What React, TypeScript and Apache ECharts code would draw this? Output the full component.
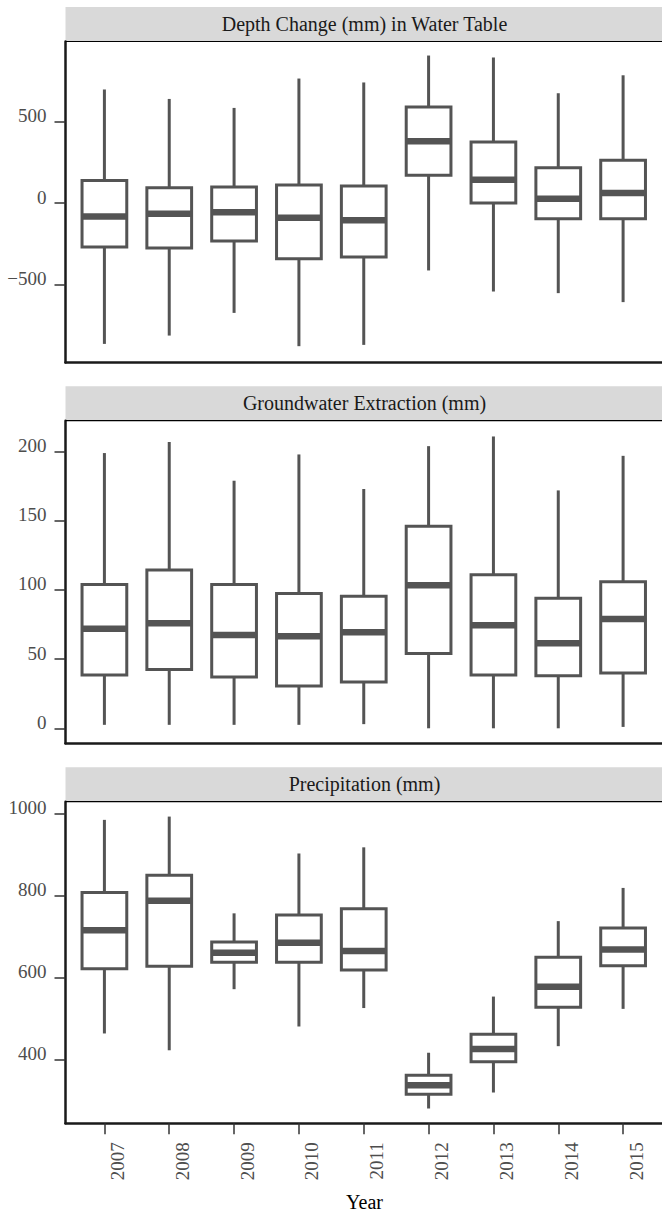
import React, { useEffect, useRef } from "react";
import * as echarts from "echarts";

const years = ["2007", "2008", "2009", "2010", "2011", "2012", "2013", "2014", "2015"];

// Depth Change (mm) in Water Table
const depthMin = [-863, -812, -673, -877, -869, -413, -542, -552, -607];
const depthQ1 = [-270, -276, -233, -341, -331, 170, 0, -96, -96];
const depthMed = [-82, -65, -57, -90, -106, 379, 143, 27, 61];
const depthQ3 = [139, 94, 98, 110, 104, 589, 374, 217, 262];
const depthMax = [696, 638, 583, 763, 739, 904, 892, 673, 783];

// Groundwater Extraction (mm)
const extrMin = [2.5, 2.5, 2.5, 2.5, 3, 0, 0, 0, 1];
const extrQ1 = [38.5, 42.5, 37, 30.5, 33.5, 54, 38.5, 38, 40];
const extrMed = [72, 76, 67.5, 66.5, 69.5, 103.5, 74.5, 61.5, 79];
const extrQ3 = [104, 114.5, 104, 97.5, 95.5, 146, 111, 94, 106];
const extrMax = [199, 207, 179, 198, 173, 204, 211, 172, 197];

// Precipitation (mm)
const precMin = [463, 422, 571, 480, 525, 280, 319, 432, 523];
const precQ1 = [621, 627, 637, 637, 618, 315, 394, 527, 628];
const precMed = [715, 787, 660, 684, 664, 337, 425, 577, 668];
const precQ3 = [807, 849, 686, 752, 767, 361, 461, 649, 720];
const precMax = [984, 992, 756, 902, 917, 416, 553, 737, 818];

const panelTitles = ["Depth Change (mm) in Water Table", "Groundwater Extraction (mm)", "Precipitation (mm)"];
const yTicks = [
  [-500, 0, 500],
  [0, 50, 100, 150, 200],
  [400, 600, 800, 1000],
];
const yRanges = [
  [-977, 990],
  [-10.85, 222.4],
  [243.9, 1028.3],
];
const xTicks = [1, 2, 3, 4, 5, 6, 7, 8, 9];

const FONT = "Liberation Serif";
const BOX_COLOR = "#545454";
const TEXT_GREY = "#4d4d4d";
const AXIS_COLOR = "#1a1a1a";

const GRID_LEFT = 65.5;
const GRID_WIDTH = 598;
const grids = [
  { top: 41.5, height: 321 },
  { top: 420.7, height: 322.6 },
  { top: 801.7, height: 321.6 },
];
const STRIP_H = 34.5;

function buildData(mins: number[], q1: number[], med: number[], q3: number[], maxs: number[]) {
  return years.map((_, k) => [k + 1, mins[k], q1[k], med[k], q3[k], maxs[k]]);
}

const panelData = [
  buildData(depthMin, depthQ1, depthMed, depthQ3, depthMax),
  buildData(extrMin, extrQ1, extrMed, extrQ3, extrMax),
  buildData(precMin, precQ1, precMed, precQ3, precMax),
];

function renderBox(params: any, api: any) {
  const x = api.value(0);
  const pMin = api.coord([x, api.value(1)]);
  const pQ1 = api.coord([x, api.value(2)]);
  const pMed = api.coord([x, api.value(3)]);
  const pQ3 = api.coord([x, api.value(4)]);
  const pMax = api.coord([x, api.value(5)]);
  const hw = api.size([0.69, 0])[0] / 2;
  const cx = pMed[0];
  const lineStyle = { stroke: BOX_COLOR, lineWidth: 3, fill: null };
  return {
    type: "group",
    children: [
      { type: "line", shape: { x1: cx, y1: pMax[1], x2: cx, y2: pQ3[1] }, style: lineStyle },
      { type: "line", shape: { x1: cx, y1: pQ1[1], x2: cx, y2: pMin[1] }, style: lineStyle },
      {
        type: "rect",
        shape: { x: cx - hw, y: pQ3[1], width: 2 * hw, height: pQ1[1] - pQ3[1] },
        style: { stroke: BOX_COLOR, lineWidth: 3, fill: "#ffffff" },
      },
      {
        type: "line",
        shape: { x1: cx - hw, y1: pMed[1], x2: cx + hw, y2: pMed[1] },
        style: { stroke: BOX_COLOR, lineWidth: 6.5 },
      },
    ],
  };
}

export default function App() {
  const ref = useRef<HTMLDivElement>(null);
  useEffect(() => {
    if (!ref.current) return;
    const chart = echarts.init(ref.current, null, { renderer: "svg" });

    const graphic: any[] = [];
    grids.forEach((g, i) => {
      graphic.push({
        type: "rect",
        shape: { x: GRID_LEFT, y: g.top - STRIP_H, width: 662 - GRID_LEFT, height: STRIP_H },
        style: { fill: "#d9d9d9" },
        z: 0,
      });
      graphic.push({
        type: "text",
        x: GRID_LEFT + GRID_WIDTH / 2,
        y: g.top - STRIP_H / 2,
        style: {
          text: panelTitles[i],
          fontFamily: FONT,
          fontSize: 20,
          fill: "#1a1a1a",
          align: "center",
          verticalAlign: "middle",
        },
        z: 1,
      });
      graphic.push({
        type: "line",
        shape: { x1: GRID_LEFT, y1: g.top, x2: 662, y2: g.top },
        style: { stroke: "#000000", lineWidth: 1.2 },
        z: 5,
      });
    });
    graphic.push({
      type: "text",
      x: GRID_LEFT + GRID_WIDTH / 2,
      y: 1201.5,
      style: {
        text: "Year",
        fontFamily: FONT,
        fontSize: 20,
        lineHeight: 20,
        fill: "#000000",
        align: "center",
        verticalAlign: "middle",
      },
    });

    const option: any = {
      animation: false,
      backgroundColor: "#ffffff",
      textStyle: { fontFamily: FONT },
      grid: grids.map((g) => ({ left: GRID_LEFT, top: g.top, width: GRID_WIDTH, height: g.height, containLabel: false })),
      xAxis: grids.map((_, i) => ({
        type: "value",
        gridIndex: i,
        min: 0.4,
        max: 9.6,
        axisLine: { show: true, onZero: false, lineStyle: { color: AXIS_COLOR, width: 2.5 } },
        splitLine: { show: false },
        axisTick: {
          show: i === 2,
          customValues: xTicks,
          length: 11,
          lineStyle: { color: "#333333", width: 1.5 },
        },
        axisLabel: {
          show: i === 2,
          customValues: xTicks,
          rotate: 90,
          margin: 19,
          verticalAlign: "top",
          lineHeight: 26,
          fontFamily: FONT,
          fontSize: 19,
          color: TEXT_GREY,
          formatter: (v: number) => years[Math.round(v) - 1] ?? "",
        },
      })),
      yAxis: grids.map((_, i) => ({
        type: "value",
        gridIndex: i,
        min: yRanges[i][0],
        max: yRanges[i][1],
        axisLine: { show: true, onZero: false, lineStyle: { color: AXIS_COLOR, width: 2.5 } },
        splitLine: { show: false },
        axisTick: {
          show: true,
          customValues: yTicks[i],
          length: 11,
          lineStyle: { color: "#333333", width: 1.5 },
        },
        axisLabel: {
          show: true,
          customValues: yTicks[i],
          margin: 19,
          verticalAlign: "bottom",
          lineHeight: 12,
          fontFamily: FONT,
          fontSize: 19,
          color: TEXT_GREY,
          formatter: (v: number) => String(v).replace("-", "\u2212"),
        },
      })),
      series: panelData.map((d, i) => ({
        type: "custom",
        xAxisIndex: i,
        yAxisIndex: i,
        data: d,
        encode: { x: 0, y: [1, 2, 3, 4, 5] },
        renderItem: renderBox,
        clip: false,
      })),
      graphic,
    };
    chart.setOption(option);
    return () => chart.dispose();
  }, []);
  return (
    <div
      ref={ref}
      style={{ position: "fixed", left: 0, top: 0, width: 662, height: 1212, background: "#fff" }}
    />
  );
}
